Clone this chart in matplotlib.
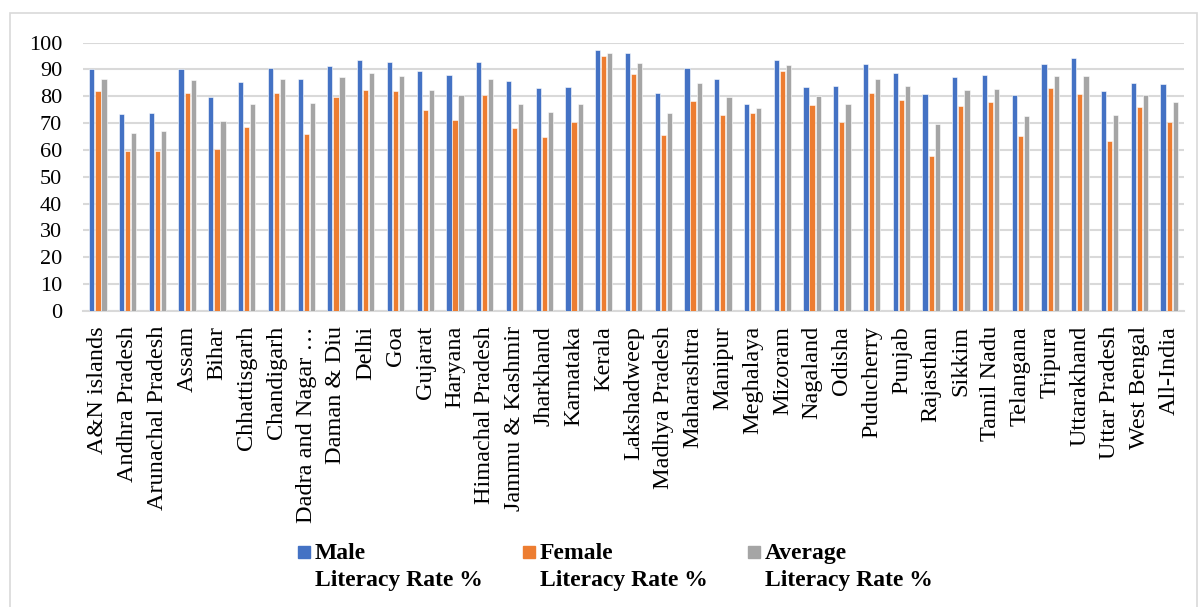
import numpy as np
import matplotlib.pyplot as plt
from matplotlib.patches import Rectangle

states = ["A&N islands", "Andhra Pradesh", "Arunachal Pradesh", "Assam", "Bihar",
          "Chhattisgarh", "Chandigarh", "Dadra and Nagar …", "Daman & Diu", "Delhi",
          "Goa", "Gujarat", "Haryana", "Himachal Pradesh", "Jammu & Kashmir",
          "Jharkhand", "Karnataka", "Kerala", "Lakshadweep", "Madhya Pradesh",
          "Maharashtra", "Manipur", "Meghalaya", "Mizoram", "Nagaland", "Odisha",
          "Puducherry", "Punjab", "Rajasthan", "Sikkim", "Tamil Nadu", "Telangana",
          "Tripura", "Uttarakhand", "Uttar Pradesh", "West Bengal", "All-India"]

male = [90.1, 73.4, 73.7, 90.1, 79.7, 85.4, 90.6, 86.3, 91.4, 93.7,
        92.8, 89.5, 88.0, 92.9, 85.7, 83.0, 83.4, 97.4, 96.1, 81.2,
        90.7, 86.5, 77.1, 93.7, 83.3, 84.0, 92.0, 88.5, 80.8, 87.2,
        87.9, 80.5, 92.2, 94.3, 81.8, 84.8, 84.7]
female = [81.8, 59.5, 59.6, 81.2, 60.5, 68.7, 81.3, 65.9, 79.6, 82.4,
          81.8, 74.8, 71.3, 80.5, 68.0, 64.7, 70.5, 95.2, 88.3, 65.5,
          78.4, 73.2, 73.8, 89.4, 76.6, 70.3, 81.2, 78.5, 57.6, 76.4,
          77.9, 65.1, 83.1, 80.7, 63.4, 76.1, 70.3]
average = [86.3, 66.4, 66.9, 85.9, 70.9, 77.3, 86.3, 77.6, 87.1, 88.7,
           87.4, 82.4, 80.4, 86.6, 77.3, 74.3, 77.2, 96.2, 92.3, 73.7,
           84.8, 79.9, 75.5, 91.5, 80.1, 77.3, 86.5, 83.7, 69.7, 82.2,
           82.9, 72.8, 87.7, 87.6, 73.0, 80.5, 77.7]

series_names = ["Male\nLiteracy Rate %", "Female\nLiteracy Rate %", "Average\nLiteracy Rate %"]
colors = ["#4472C4", "#ED7D31", "#A5A5A5"]

plt.rcParams['font.family'] = ['Liberation Serif', 'DejaVu Serif']

fig = plt.figure(figsize=(12, 6.07), dpi=100)
ax = fig.add_axes([0.0692, 0.4881, 0.9175, 0.4416])

x = np.arange(len(states))
width = 0.175
step = 0.205
for i, (vals, col) in enumerate(zip([male, female, average], colors)):
    ax.bar(x + (i - 1) * step, vals, width, color=col, edgecolor="white",
           linewidth=0.4, zorder=3)

ax.set_xlim(-0.5, len(states) - 0.5)
ax.set_ylim(0, 100)
ax.set_yticks(range(0, 101, 10))
ax.yaxis.grid(True, color="#D9D9D9", linewidth=1.5, zorder=0)
ax.set_axisbelow(True)
ax.set_xticks(x)
ax.set_xticklabels(states, rotation=90, va="top", ha="center")
ax.tick_params(axis="x", length=0, pad=11, labelsize=17.5)
ax.tick_params(axis="y", length=0, pad=15, labelsize=16)
for s in ["top", "right", "left"]:
    ax.spines[s].set_visible(False)
ax.spines["bottom"].set_color("#D9D9D9")
ax.spines["bottom"].set_linewidth(1.5)

# hand-made legend: square marker next to the first line of each label
W, H = 1200.0, 607.0
legend_x = [298, 523, 748]
for lx, name, col in zip(legend_x, series_names, colors):
    fig.patches.append(Rectangle((lx / W, 1 - 558 / H), 12 / W, 12 / H,
                                 transform=fig.transFigure, color=col))
    fig.text((lx + 17) / W, 1 - 543 / H, name, fontsize=17, fontweight="bold",
             va="top", ha="left", linespacing=1.4)

# light frame round the whole chart
fig.patches.append(Rectangle((9.5 / W, -0.05), 1187 / W, 1.05 - 13.3 / H,
                             transform=fig.transFigure, fill=False,
                             edgecolor="#D9D9D9", linewidth=1.2))

fig.savefig("out.png", dpi=100)
